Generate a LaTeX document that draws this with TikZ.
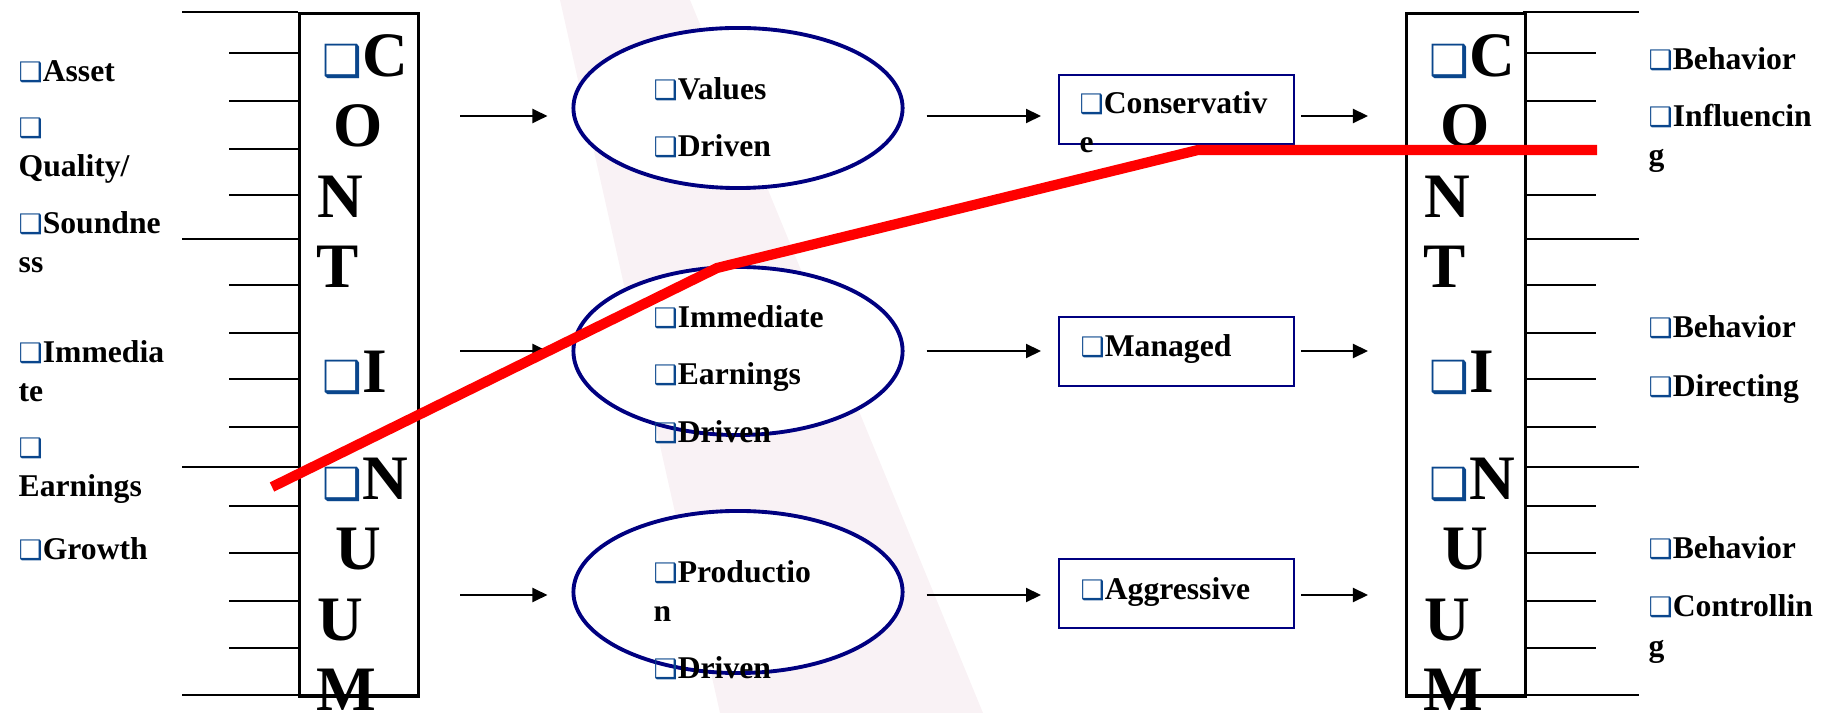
\documentclass[tikz,border=0pt]{standalone}
\usepackage{fontspec}
\setmainfont{Liberation Serif}
\newfontfamily\symfont{DejaVu Sans}
\usepackage{graphicx}
\usetikzlibrary{shapes.geometric}
\usetikzlibrary{arrows.meta}
\definecolor{ovalnavy}{RGB}{0,0,128}
\definecolor{bulblue}{RGB}{10,70,140}
\definecolor{wmpink}{RGB}{249,242,245}
\newcommand{\bul}[1][0.85]{{\symfont\color{bulblue}\scalebox{#1}{\char"2751}}}

\begin{document}
\begin{tikzpicture}[x=0.01cm,y=-0.01cm,
  txt/.style={anchor=base west,inner sep=0pt,align=left,font=\bfseries\fontsize{9}{11.1}\selectfont},
  big/.style={anchor=base,inner sep=0pt,font=\bfseries\fontsize{18}{20}\selectfont},
  bigw/.style={big,anchor=base west},
  tick/.style={line width=0.6pt},
  pillar/.style={draw,line width=0.9pt,fill=white,anchor=north west,minimum width=1.19cm,minimum height=6.82cm,inner sep=0pt},
  oval/.style={ellipse,draw=ovalnavy,line width=1.1pt,fill=white,minimum width=3.29cm,minimum height=1.6cm,inner sep=0pt},
  tag/.style={draw=ovalnavy,line width=0.6pt,fill=white,anchor=north west,minimum width=2.35cm,minimum height=0.69cm,inner sep=0pt},
  flow/.style={line width=0.6pt,-{Triangle[length=0.15cm,width=0.14cm]}},
  redline/.style={red,line width=2.9pt}]
\useasboundingbox (0,0) rectangle (1828,713);
\fill[wmpink] (560,0) -- (690,0) -- (983,713) -- (720,713) -- cycle;

\foreach \y in {53,101,149,195,285,333,379,427,506,553,601,648} {
  \draw[tick] (229,\y) -- (298,\y);
  \draw[tick] (1523,\y) -- (1596,\y);
}
\foreach \y in {12,239,467,695} {
  \draw[tick] (182,\y) -- (298,\y);
  \draw[tick] (1523,\y) -- (1639,\y);
}

\node[pillar] (lcol) at (298,12) {};
\node[pillar] (rcol) at (1405,12) {};
\foreach \lx in {298,1405} {
  \foreach \t/\dy in {C/77,I/393,N/500}
    \node[bigw] (b\lx-\dy) at (\lx+24,\dy) {\bul[0.7]\t};
  \foreach \t/\dx/\dy in {O/60/147,N/42/218,T/40/288,U/60/570,U/42/640,M/48/710}
    \node[big] (b\lx-\dy) at (\lx+\dx,\dy) {\t};
}

% multi-line texts sit on the baseline of their last line
\node[txt] (asset) at (18,82) {\bul Asset};
\node[txt] (quality) at (18,177) {\bul\\Quality/};
\node[txt] (sound) at (18,273) {\bul Soundne\\ss};
\node[txt] (immed) at (18,402) {\bul Immedia\\te};
\node[txt] (earnl) at (18,497) {\bul\\Earnings};
\node[txt] (growth) at (18,560) {\bul Growth};

\node[oval] (vals) at (738,108) {};
\node[oval,minimum height=1.68cm] (earns) at (738,351) {};
\node[oval,minimum height=1.62cm] (prods) at (738,592) {};
\node[txt] (valtxt) at (653,157) {\bul Values\\[0.18cm]\bul Driven};
\node[txt] (earntxt) at (653,443) {\bul Immediate\\[0.18cm]\bul Earnings\\[0.19cm]\bul Driven};
\node[txt] (prodtxt) at (653,678) {\bul Productio\\n\\[0.17cm]\bul Driven};

\node[tag] (cons) at (1058,74) {};
\node[tag] (mgd) at (1058,316) {};
\node[tag] (aggr) at (1058,558) {};
\node[txt] (constxt) at (1079,153) {\bul Conservativ\\e};
\node[txt] (mgdtxt) at (1080,357) {\bul Managed};
\node[txt] (aggrtxt) at (1080,599) {\bul Aggressive};

\node[txt] (beh1) at (1648,70) {\bul Behavior};
\node[txt] (infl) at (1648,166) {\bul Influencin\\g};
\node[txt] (beh2) at (1648,338) {\bul Behavior};
\node[txt] (dirc) at (1648,397) {\bul Directing};
\node[txt] (beh3) at (1648,558) {\bul Behavior};
\node[txt] (ctrl) at (1648,656) {\bul Controllin\\g};

\coordinate (row1) at (0,116);
\coordinate (row2) at (0,351);
\coordinate (row3) at (0,595);
\foreach \r/\o/\b in {row1/vals/cons,row2/earns/mgd,row3/prods/aggr} {
  \draw[flow,shorten <=0.4cm,shorten >=0.24cm] (lcol.east |- \r) -- (\o.west |- \r);
  \draw[flow,shorten <=0.22cm,shorten >=0.17cm] (\o.east |- \r) -- (\b.west |- \r);
  \draw[flow,shorten <=0.06cm,shorten >=0.37cm] (\b.east |- \r) -- (rcol.west |- \r);
}

\coordinate (bendA) at (272,487);
\coordinate (bendB) at (717,268);
\coordinate (bendC) at (1198,150);
\coordinate (bendD) at (1597,150);
\draw[redline] (bendA) -- (bendB) -- (bendC) -- (bendD);
\end{tikzpicture}
\end{document}
